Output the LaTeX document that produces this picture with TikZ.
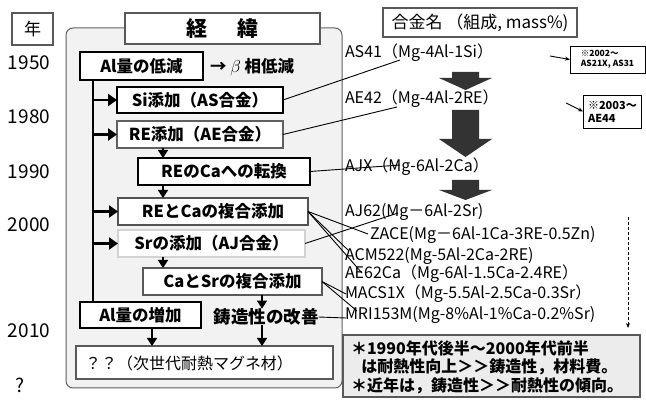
\documentclass[tikz,border=0pt]{standalone}
\usepackage{fontspec}
\setmainfont{Noto Sans CJK JP}
\usetikzlibrary{arrows.meta}
\begin{document}
\begin{tikzpicture}[x=1pt,y=-1pt,
  every node/.style={inner sep=0pt, outer sep=0pt},
  bx/.style={draw=#1, fill=white, line width=1.4pt, minimum height=27pt, font=\fontsize{16.5}{18}\selectfont\bfseries},
  alloy/.style={anchor=west, font=\fontsize{16}{18}\selectfont},
  yr/.style={font=\fontsize{19}{21}\selectfont},
  thk/.style={line width=2.8pt, -{Triangle[length=9pt,width=12pt]}},
  dn/.style={line width=1.6pt, -{Triangle[length=8pt,width=10pt]}},
  cn/.style={line width=0.9pt},
  bigarr/.style={fill=black!80, draw=none},
  note/.style={draw=black, fill=white, line width=0.8pt, align=left, anchor=north west, inner xsep=5pt}
]
\path[use as bounding box] (0,0) rectangle (646,406);

% year column
\node[draw=gray!70!black, line width=1.2pt, minimum width=41pt, minimum height=32pt, font=\fontsize{17}{19}\selectfont] (yearhead) at (32.5,29) {年};
\node[yr] (y1950) at (29,63) {1950};
\node[yr] (y1980) at (29,117) {1980};
\node[yr] (y1990) at (29,172) {1990};
\node[yr] (y2000) at (29,225) {2000};
\node[yr] (y2010) at (29,331) {2010};
\node[yr] (yq) at (20,385) {?};

% panel
\node[draw=gray!75!black, fill=gray!10, line width=1pt, rounded corners=7pt, minimum width=276pt, minimum height=360pt] (panel) at (204,208) {};
\node[bx=gray!70!black, line width=1.2pt, minimum width=195pt, minimum height=31pt, font=\fontsize{21}{23}\selectfont\bfseries] (title) at (222.5,28.5) {経\hspace{30pt}緯};

% left boxes
\node[bx=black, minimum width=123pt, minimum height=28pt] (low) at (141.5,66) {Al量の低減};
\node[anchor=west, font=\fontsize{16.5}{18}\selectfont\bfseries] (beta) at (210,67) {→ $\beta$ 相低減};
\node[bx=black, minimum width=166pt, minimum height=26pt] (si) at (200,100) {Si添加（AS合金）};
\node[bx=gray!75!black, minimum width=166pt] (re) at (200,134.5) {RE添加（AE合金）};
\node[bx=black, minimum width=172pt] (reca) at (224,171.5) {REのCaへの転換};
\node[bx=gray!65!black, minimum width=190pt] (reca2) at (213,211.5) {REとCaの複合添加};
\node[bx=gray!35, minimum width=187pt] (sr) at (211.5,243.5) {Srの添加（AJ合金）};
\node[bx=gray!70!black, minimum width=179pt] (casr) at (232.5,281.5) {CaとSrの複合添加};
\node[bx=black, minimum width=121pt, minimum height=26pt] (inc) at (140.5,315) {Al量の増加};
\node[font=\fontsize{17.5}{19}\selectfont\bfseries] (cast) at (266,317) {鋳造性の改善};
\node[draw=gray!70!black, fill=white, line width=1.4pt, minimum width=257pt, minimum height=33pt] (next) at (204.5,362.5) {};
\node[anchor=west, font=\fontsize{16}{18}\selectfont] (nexttext) at (85,363) {？？（次世代耐熱マグネ材）};

% spine and arrows
\coordinate (vtop) at (93,80);
\draw[line width=2.8pt] (vtop) -- (vtop |- inc.north);
\draw[thk] (si.west -| vtop) -- (si.west);
\draw[thk] (re.west -| vtop) -- (re.west);
\draw[thk] (reca2.west -| vtop) -- (reca2.west);
\draw[thk] (sr.west -| vtop) -- (sr.west);

\coordinate (c1) at (163,0);
\draw[dn] (c1 |- re.south) -- (c1 |- reca.north);
\draw[dn] (c1 |- reca.south) -- (c1 |- reca2.north);
\draw[dn] (c1 |- sr.south) -- (c1 |- casr.north);
\coordinate (c2) at (262,0);
\draw[dn] (c2 |- casr.south) -- (c2 |- cast.north);
\draw[dn] (c2 |- cast.south) -- (c2 |- next.north);
\coordinate (c3) at (152,0);
\draw[dn] (c3 |- inc.south) -- (c3 |- next.north);

% right column
\node[draw=gray!70!black, fill=white, line width=1.2pt, minimum width=194pt, minimum height=29pt, font=\fontsize{17}{19}\selectfont] (hdr) at (480,22.5) {合金名 （組成, mass\%)};
\node[alloy] (as41) at (345,53) {AS41（Mg-4Al-1Si）};
\node[alloy] (ae42) at (345,99) {AE42（Mg-4Al-2RE）};
\node[alloy] (ajx) at (345,167) {AJX（Mg-6Al-2Ca）};
\node[alloy] (aj62) at (345,212) {AJ62(Mg－6Al-2Sr)};
\node[alloy] (zace) at (370,235) {ZACE(Mg－6Al-1Ca-3RE-0.5Zn)};
\node[alloy] (acm) at (345,256) {ACM522(Mg-5Al-2Ca-2RE)};
\node[alloy] (ae62) at (345,274) {AE62Ca（Mg-6Al-1.5Ca-2.4RE）};
\node[alloy] (macs) at (345,294) {MACS1X（Mg-5.5Al-2.5Ca-0.3Sr）};
\node[alloy] (mri) at (345,315) {MRI153M(Mg-8\%Al-1\%Ca-0.2\%Sr)};

% big arrows
\fill[bigarr] (452,72) -- (479,72) -- (479,78) -- (492,78) -- (465.5,90) -- (439,78) -- (452,78) -- cycle;
\fill[bigarr] (452,110) -- (479,110) -- (479,139) -- (492,139) -- (465.5,157) -- (439,139) -- (452,139) -- cycle;
\fill[bigarr] (452,180) -- (479,180) -- (479,190) -- (492,190) -- (465.5,200) -- (439,190) -- (452,190) -- cycle;

% connector end points
\coordinate (e_as) at (400,60);
\coordinate (e_ae) at (397,107);
\coordinate (e_ajx) at (400,165);
\coordinate (e_aj62) at (398,213);
\coordinate (e_zace) at (368,234);
\coordinate (e_acm) at (349,251);
\coordinate (e_ae62) at (362,273);
\coordinate (e_macs) at (346,294);
\coordinate (e_mri) at (357,311);
\coordinate (e_mri2) at (346,318);
\draw[cn] (si.east) -- (e_as);
\draw[cn] (re.east) -- (e_ae);
\draw[cn] (reca.east) -- (e_ajx);
\draw[cn] (reca2.east) -- (e_zace);
\draw[cn] (reca2.east) -- (e_acm);
\draw[cn] (reca2.east) -- (e_ae62);
\draw[cn] (sr.east) -- (e_aj62);
\draw[cn] (casr.east) -- (e_macs);
\draw[cn] (casr.east) -- (e_mri);
\draw[cn] (cast.east) -- (e_mri2);

% notes
\node[note, minimum width=75pt, minimum height=27pt, font=\fontsize{8.5}{10}\selectfont\bfseries] (n1) at (570,46) {※2002～\\AS21X, AS31};
\node[note, minimum width=52pt, minimum height=33pt, font=\fontsize{11}{13}\selectfont\bfseries] (n2) at (583,95) {※2003～\\AE44};
\coordinate (a1) at (550,56);
\coordinate (a2) at (566,103);
\draw[cn, -{Stealth[length=5pt,width=4pt]}] (a1) -- (n1.west);
\draw[cn, -{Stealth[length=5pt,width=4pt]}] (a2) -- (n2.west);

% dashed timeline
\coordinate (d1) at (628,217);
\coordinate (d2) at (628,328);
\draw[line width=0.8pt, dash pattern=on 3pt off 2pt, -{Stealth[length=5pt,width=4pt]}] (d1) -- (d2);

% summary box
\node[draw=gray!70!black, fill=gray!15, line width=1.2pt, minimum width=297pt, minimum height=62pt] (summary) at (491.5,366) {};
\node[anchor=west, align=left, font=\fontsize{16}{18.5}\selectfont\bfseries] (sumtext) at (351,367) {＊1990年代後半～2000年代前半\\\hspace{0.65em}は耐熱性向上＞＞鋳造性，材料費。\\＊近年は，鋳造性＞＞耐熱性の傾向。};
\end{tikzpicture}
\end{document}
